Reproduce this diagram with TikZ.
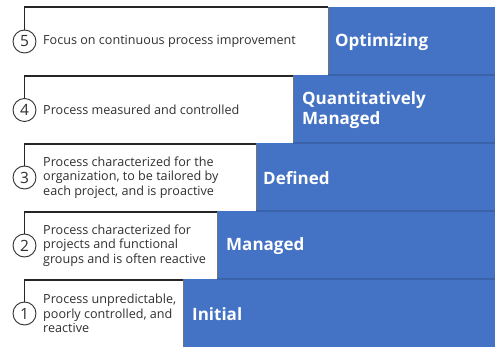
\documentclass[tikz,border=0pt]{standalone}
\usepackage{fontspec}
\setmainfont{Open Sans}
\definecolor{cmmiblue}{HTML}{4472C4}
\definecolor{sepblue}{HTML}{3A63AC}
\definecolor{txtgray}{HTML}{303030}
\begin{document}
\begin{tikzpicture}[x=1pt,y=-1pt,
  whitefill/.style={fill=white},
  edgeline/.style={draw=black!55,line width=0.7pt},
  bluebar/.style={fill=cmmiblue},
  sepline/.style={draw=sepblue,line width=1.2pt},
  frameline/.style={draw=black!85,line width=1.5pt},
  numcircle/.style={circle,draw=black!80,line width=0.9pt,fill=white,minimum size=23pt,inner sep=0pt,font=\fontsize{15.5}{15.5}\selectfont,text=txtgray},
  desc/.style={anchor=west,align=left,inner sep=0pt,text=txtgray,font=\fontsize{12.6}{14.5}\selectfont},
  level/.style={anchor=west,align=left,inner sep=0pt,text=white,font=\fontsize{17}{20}\bfseries\selectfont}
]
\useasboundingbox (0,0) rectangle (495,347);
% row 5
\fill[bluebar] (328,7) rectangle (495,75);
\fill[whitefill] (24,7) rectangle (328,75);
\draw[edgeline] (24,75) -- (328,75) -- (328,7);
\node[numcircle] (c5) at (24.5,41.5) {5};
\coordinate (t5) at (328,7);
\draw[frameline] (t5) -| (c5.north);
\node[desc] (d5) at (43,41.5) {Focus on continuous process improvement};
\node[level] (l5) at (335,42) {Optimizing};
% row 4
\fill[bluebar] (293,75) rectangle (495,143);
\draw[sepline] (328,75) -- (495,75);
\fill[whitefill] (24,75.6) rectangle (293,143);
\draw[edgeline] (24,143) -- (293,143) -- (293,76);
\node[numcircle] (c4) at (24.5,110) {4};
\coordinate (t4) at (293,76);
\draw[frameline] (t4) -| (c4.north);
\node[desc] (d4) at (43,110) {Process measured and controlled};
\node[level] (l4) at (302,110) {Quantitatively\\Managed};
% row 3
\fill[bluebar] (256,143) rectangle (495,211);
\draw[sepline] (293,143) -- (495,143);
\fill[whitefill] (24,143.6) rectangle (256,211);
\draw[edgeline] (24,211) -- (256,211) -- (256,144);
\node[numcircle] (c3) at (24.5,177.5) {3};
\coordinate (t3) at (256,144);
\draw[frameline] (t3) -| (c3.north);
\node[desc] (d3) at (43,177.5) {Process characterized for the\\organization, to be tailored by\\each project, and is proactive};
\node[level] (l3) at (263,178) {Defined};
% row 2
\fill[bluebar] (217,211) rectangle (495,279);
\draw[sepline] (256,211) -- (495,211);
\fill[whitefill] (24,211.6) rectangle (217,279);
\draw[edgeline] (24,279) -- (217,279) -- (217,212);
\node[numcircle] (c2) at (24.5,245.5) {2};
\coordinate (t2) at (217,212);
\draw[frameline] (t2) -| (c2.north);
\node[desc] (d2) at (43,245.5) {Process characterized for\\projects and functional\\groups and is often reactive};
\node[level] (l2) at (226,246) {Managed};
% row 1
\fill[bluebar] (183,279) rectangle (495,347);
\draw[sepline] (217,279) -- (495,279);
\fill[whitefill] (24,279.6) rectangle (183,347);
\draw[edgeline] (183,347) -- (183,280);
\node[numcircle] (c1) at (24.5,313.5) {1};
\coordinate (t1) at (183,280);
\draw[frameline] (t1) -| (c1.north);
\node[desc] (d1) at (43,313.5) {Process unpredictable,\\poorly controlled, and\\reactive};
\node[level] (l1) at (192,314) {Initial};
\end{tikzpicture}
\end{document}
